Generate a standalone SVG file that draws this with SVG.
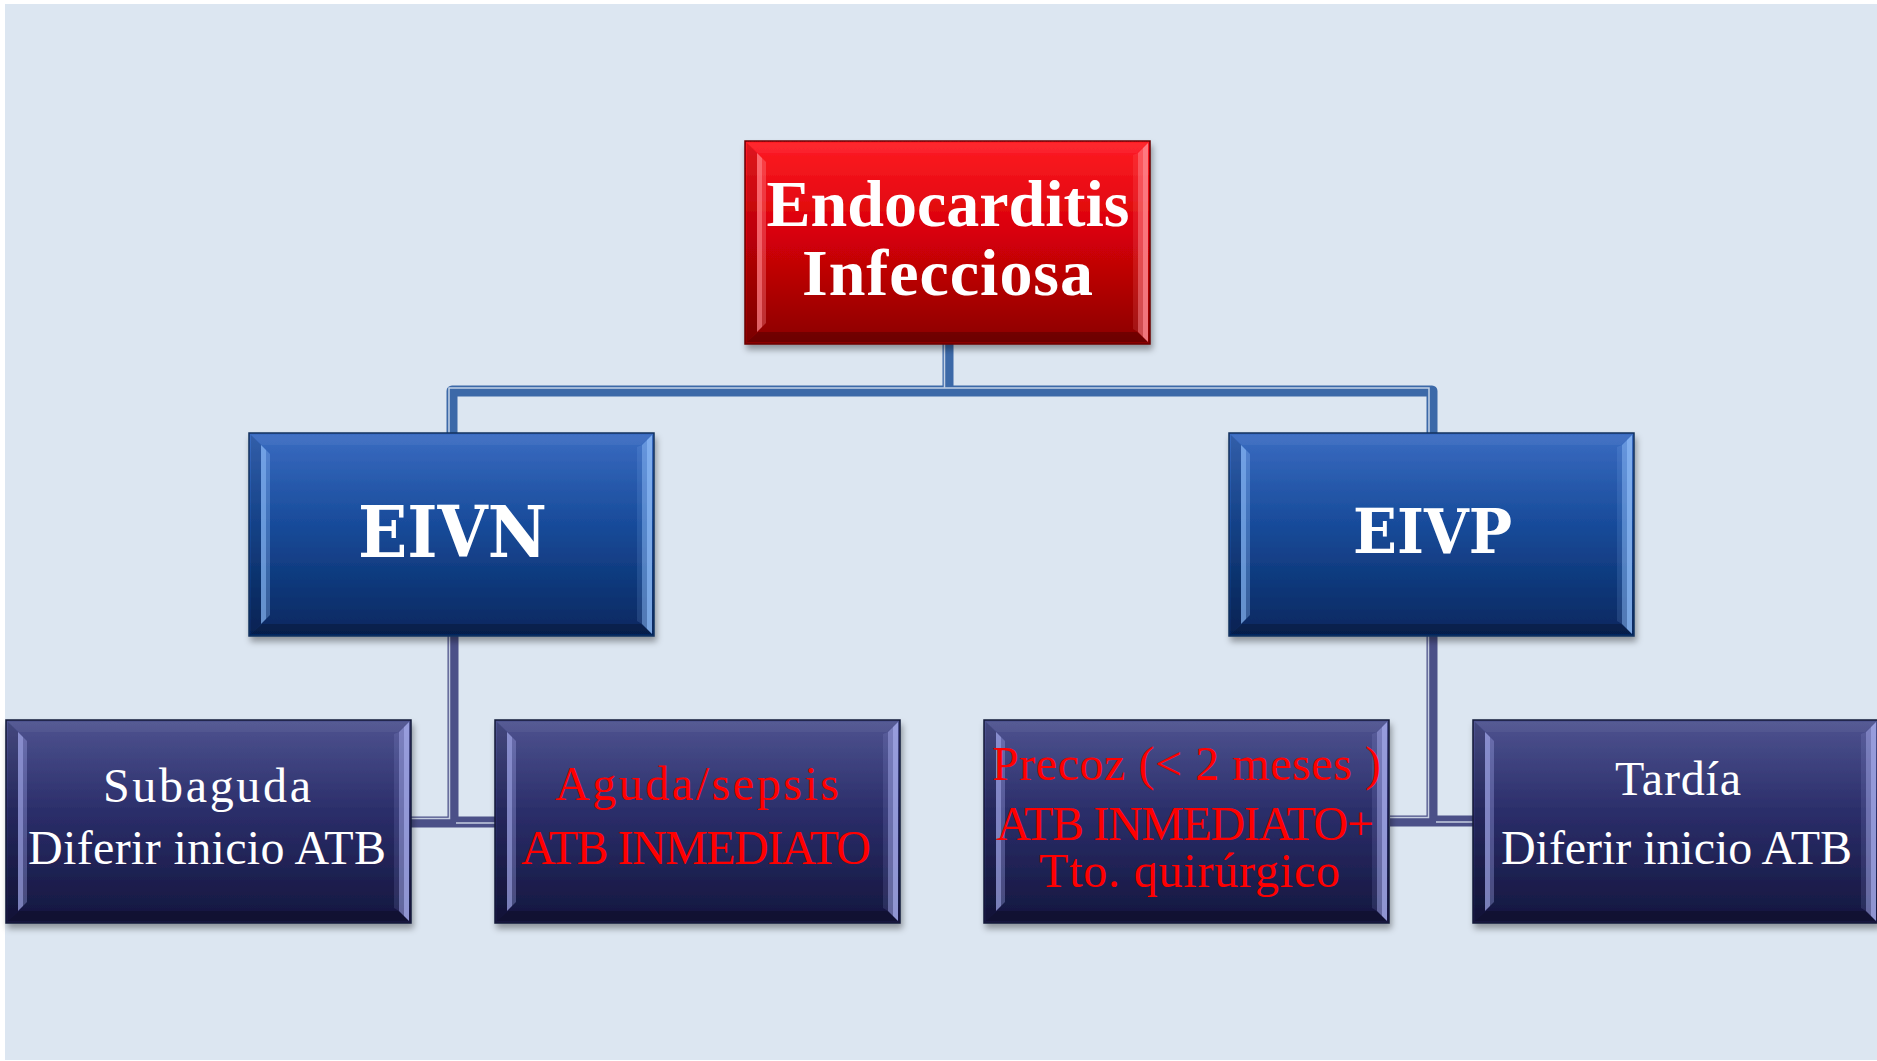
<svg xmlns="http://www.w3.org/2000/svg" width="1877" height="1061" viewBox="0 0 1877 1061">
  <defs>
    <linearGradient id="gRed" x1="0" y1="0" x2="0" y2="1">
      <stop offset="0" stop-color="#ff1c24"/>
      <stop offset="0.45" stop-color="#d80008"/>
      <stop offset="1" stop-color="#8a0000"/>
    </linearGradient>
    <linearGradient id="gBlue" x1="0" y1="0" x2="0" y2="1">
      <stop offset="0" stop-color="#3a6cc2"/>
      <stop offset="0.45" stop-color="#184b9a"/>
      <stop offset="1" stop-color="#06275e"/>
    </linearGradient>
    <linearGradient id="gNavy" x1="0" y1="0" x2="0" y2="1">
      <stop offset="0" stop-color="#4e5390"/>
      <stop offset="0.45" stop-color="#2b2e6a"/>
      <stop offset="1" stop-color="#14163e"/>
    </linearGradient>
    <filter id="sh" x="-10%" y="-10%" width="125%" height="130%">
      <feGaussianBlur in="SourceAlpha" stdDeviation="3"/>
      <feOffset dx="2" dy="5" result="b"/>
      <feFlood flood-color="#000" flood-opacity="0.35"/>
      <feComposite in2="b" operator="in"/>
      <feMerge><feMergeNode/><feMergeNode in="SourceGraphic"/></feMerge>
    </filter>
    <g id="bev">
      <polygon points="2,2 403,2 392,12 13,12" fill="#fff" fill-opacity="0.05"/>
      <polygon points="2,201 403,201 392,191 13,191" fill="#000" fill-opacity="0.22"/>
      <polygon points="2,2 12,12 12,191 2,201" fill="#000" fill-opacity="0.12"/>
      <polygon points="12,12 17,17 17,186 12,191" fill="currentColor" fill-opacity="0.7"/>
      <polygon points="17,17 21,21 21,182 17,186" fill="currentColor" fill-opacity="0.35"/>
      <polygon points="398,7 403,2 403,201 398,196" fill="currentColor" fill-opacity="0.85"/>
      <polygon points="393,12 398,7 398,196 393,191" fill="currentColor" fill-opacity="0.55"/>
      <polygon points="388,14 393,12 393,191 388,188" fill="currentColor" fill-opacity="0.15"/>
    </g>
    <rect id="box" x="0" y="0" width="405" height="203"/>
  </defs>
  <style>
    .t { font-family: "Liberation Serif", "Times New Roman", serif; text-anchor: middle; }
    .big { font-weight: bold; font-size: 66px; fill: #ffffff; }
    .mid { font-family: "DejaVu Serif", "Liberation Serif", serif; font-weight: bold; fill: #ffffff; text-anchor: middle; }
    .sm { font-size: 48px; }
    .w { fill: #ffffff; }
    .r { fill: #ff0000; }
    .frame { stroke-width: 1.5; }
    .cTop { fill: none; stroke: #3c69a8; stroke-width: 11; stroke-linejoin: round; }
    .cBot { fill: none; stroke: #4b5088; stroke-width: 11; }
    .lite { fill: none; stroke: #dbe4f1; stroke-width: 1.5; stroke-opacity: 0.85; }
  </style>

  <rect x="0" y="0" width="1877" height="1061" fill="#ffffff"/>
  <rect x="5" y="4" width="1872" height="1056" fill="#dce6f1"/>

  <g id="connectors">
    <path class="cTop" d="M452,433 V391 H1432 V433"/>
    <path class="cTop" d="M948,343 V391"/>
    <path class="lite" d="M449,433 V388 H1429 V433"/>
    <path class="lite" d="M944.5,343 V387.5"/>
    <path class="cBot" d="M453,636 V822"/>
    <path class="cBot" d="M410,822 H495"/>
    <path class="lite" d="M449.5,636 V818.5 H410"/>
    <path class="lite" d="M456,823 H495"/>
    <path class="cBot" d="M1432,636 V821"/>
    <path class="cBot" d="M1390,821 H1473"/>
    <path class="lite" d="M1428.5,636 V817.5 H1390"/>
    <path class="lite" d="M1436,822 H1473"/>
  </g>

  <g id="node-endocarditis">
    <use href="#box" x="745" y="141" fill="url(#gRed)" stroke="#6a0000" class="frame" filter="url(#sh)"/>
    <use href="#bev" x="745" y="141" color="#ff8a90"/>
    <text class="t big" x="948" y="226" textLength="363">Endocarditis</text>
    <text class="t big" x="947.5" y="295" textLength="291">Infecciosa</text>
  </g>

  <g id="node-eivn">
    <use href="#box" x="249" y="433" fill="url(#gBlue)" stroke="#14305e" class="frame" filter="url(#sh)"/>
    <use href="#bev" x="249" y="433" color="#8cbaf6"/>
    <text class="mid" x="452.5" y="557" font-size="71" textLength="189" lengthAdjust="spacingAndGlyphs">EIVN</text>
  </g>

  <g id="node-eivp">
    <use href="#box" x="1229" y="433" fill="url(#gBlue)" stroke="#14305e" class="frame" filter="url(#sh)"/>
    <use href="#bev" x="1229" y="433" color="#8cbaf6"/>
    <text class="mid" x="1432.5" y="553" font-size="62" textLength="159" lengthAdjust="spacingAndGlyphs">EIVP</text>
  </g>

  <g id="node-subaguda">
    <use href="#box" x="6" y="720" fill="url(#gNavy)" stroke="#161838" class="frame" filter="url(#sh)"/>
    <use href="#bev" x="6" y="720" color="#a4aaea"/>
    <text class="t sm w" x="207" y="802" textLength="208">Subaguda</text>
    <text class="t sm w" x="207" y="864" textLength="358">Diferir inicio ATB</text>
  </g>

  <g id="node-aguda">
    <use href="#box" x="495" y="720" fill="url(#gNavy)" stroke="#161838" class="frame" filter="url(#sh)"/>
    <use href="#bev" x="495" y="720" color="#a4aaea"/>
    <text class="t sm r" x="697" y="800" textLength="284">Aguda/sepsis</text>
    <text class="t sm r" x="696" y="864" textLength="350">ATB INMEDIATO</text>
  </g>

  <g id="node-precoz">
    <use href="#box" x="984" y="720" fill="url(#gNavy)" stroke="#161838" class="frame" filter="url(#sh)"/>
    <use href="#bev" x="984" y="720" color="#a4aaea"/>
    <text class="t sm r" x="1186.5" y="780" textLength="389">Precoz (&lt; 2 meses )</text>
    <text class="t sm r" x="1185" y="840" textLength="378">ATB INMEDIATO+</text>
    <text class="t sm r" x="1189.5" y="887" textLength="301">Tto. quirúrgico</text>
  </g>

  <g id="node-tardia">
    <use href="#box" x="1473" y="720" fill="url(#gNavy)" stroke="#161838" class="frame" filter="url(#sh)"/>
    <use href="#bev" x="1473" y="720" color="#a4aaea"/>
    <text class="t sm w" x="1678" y="795" textLength="126">Tardía</text>
    <text class="t sm w" x="1676.5" y="864" textLength="351">Diferir inicio ATB</text>
  </g>
</svg>
